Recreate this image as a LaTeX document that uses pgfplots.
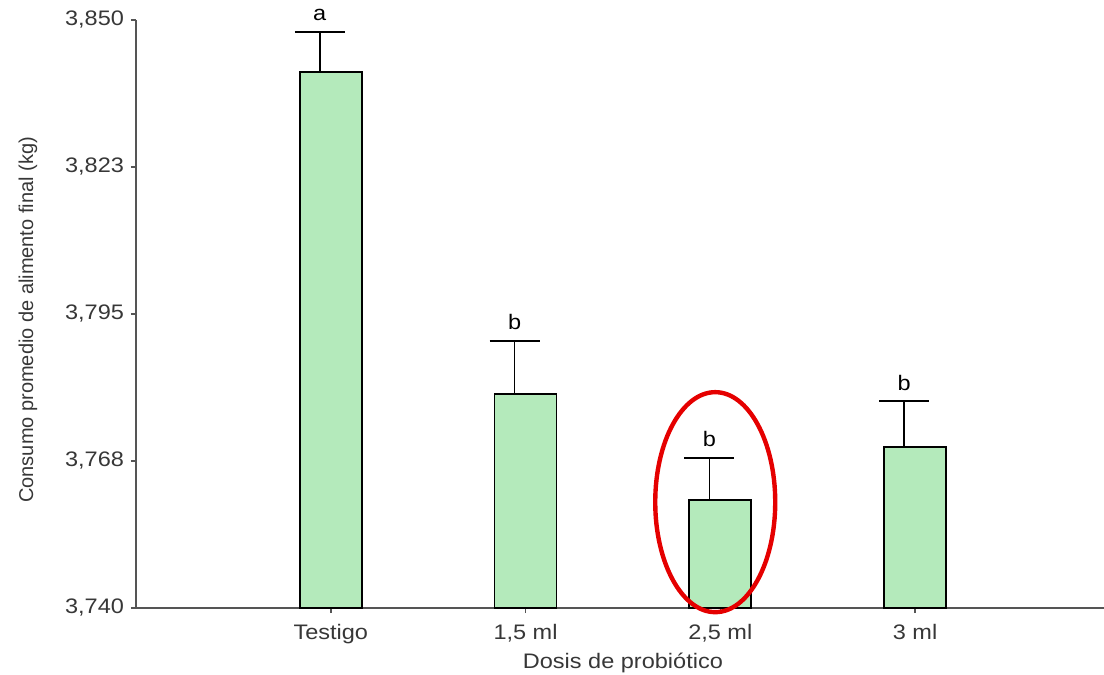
\documentclass[border=0pt]{standalone}
\usepackage{fontspec}
\setmainfont{Liberation Sans}
\usepackage{graphicx}
\usepackage{pgfplots}
\pgfplotsset{compat=1.18}

\definecolor{barfill}{RGB}{180,234,187}
\definecolor{axisgray}{RGB}{85,85,85}
\definecolor{labelgray}{RGB}{55,55,55}
\newcommand{\hs}[1]{\scalebox{1.12}[1]{#1}}

\begin{document}
\begin{tikzpicture}
\path[use as bounding box] (-68pt,-33.5pt) rectangle (484pt,304pt);
\begin{axis}[
  at={(0,0)}, anchor=south west,
  scale only axis, width=484pt, height=294pt,
  xmin=-1, xmax=3.97, ymin=3.740, ymax=3.850,
  axis x line*=bottom, axis y line*=left,
  axis line style={axisgray, line width=1.3pt, -},
  xtick={0,1,2,3},
  xticklabels={{\hs{Testigo}},{\hs{1,5 ml}},{\hs{2,5 ml}},{\hs{3 ml}}},
  ytick={3.740,3.7675,3.795,3.8225,3.850},
  yticklabels={{\hs{3,740}},{\hs{3,768}},{\hs{3,795}},{\hs{3,823}},{\hs{3,850}}},
  tick align=outside, major tick length=2.5pt,
  tick style={axisgray, line width=0.8pt},
  ticklabel style={font=\fontsize{10.5}{12}\selectfont, text=labelgray},
  xticklabel style={yshift=-2pt},
  xlabel={\hs{Dosis de probiótico}},
  xlabel style={at={(axis description cs:0.503,-0.0935)}, anchor=center,
    font=\fontsize{10.5}{12}\selectfont, text=labelgray},
  ylabel={Consumo promedio de alimento final (kg)},
  ylabel style={at={(axis description cs:-0.1116,0.49)}, anchor=center,
    font=\fontsize{10}{12}\selectfont, text=labelgray},
]
\addplot[ybar, bar width=31pt, bar shift=0pt, fill=barfill, draw=black, line width=0.9pt,
  error bars/.cd, y dir=plus, y explicit,
  error bar style={black, line width=0.8pt, xshift=-5.5pt},
  error mark options={rotate=90, mark size=12.5pt, black, line width=0.8pt}]
  coordinates {
    (0,3.8403) +- (0,0.0075)
    (1,3.7800) +- (0,0.0100)
    (2,3.7602) +- (0,0.0079)
    (3,3.7701) +- (0,0.0086)
  };
% anchors for the significance letters and the highlight
\coordinate (L0) at (axis cs:0,3.8478);
\coordinate (L1) at (axis cs:1,3.7900);
\coordinate (L2) at (axis cs:2,3.7681);
\coordinate (L3) at (axis cs:3,3.7787);
\coordinate (E) at (axis cs:1.974,3.7598);
\end{axis}
\begin{scope}[every node/.style={anchor=base, yshift=5.5pt, xshift=-5.5pt,
    font=\fontsize{10.5}{12}\selectfont, inner sep=0pt}]
  \node at (L0) {\hs{a}};
  \node at (L1) {\hs{b}};
  \node at (L2) {\hs{b}};
  \node at (L3) {\hs{b}};
\end{scope}
\draw[red!90!black, line width=2.2pt] (E) ellipse [x radius=30pt, y radius=55pt];
\end{tikzpicture}
\end{document}
